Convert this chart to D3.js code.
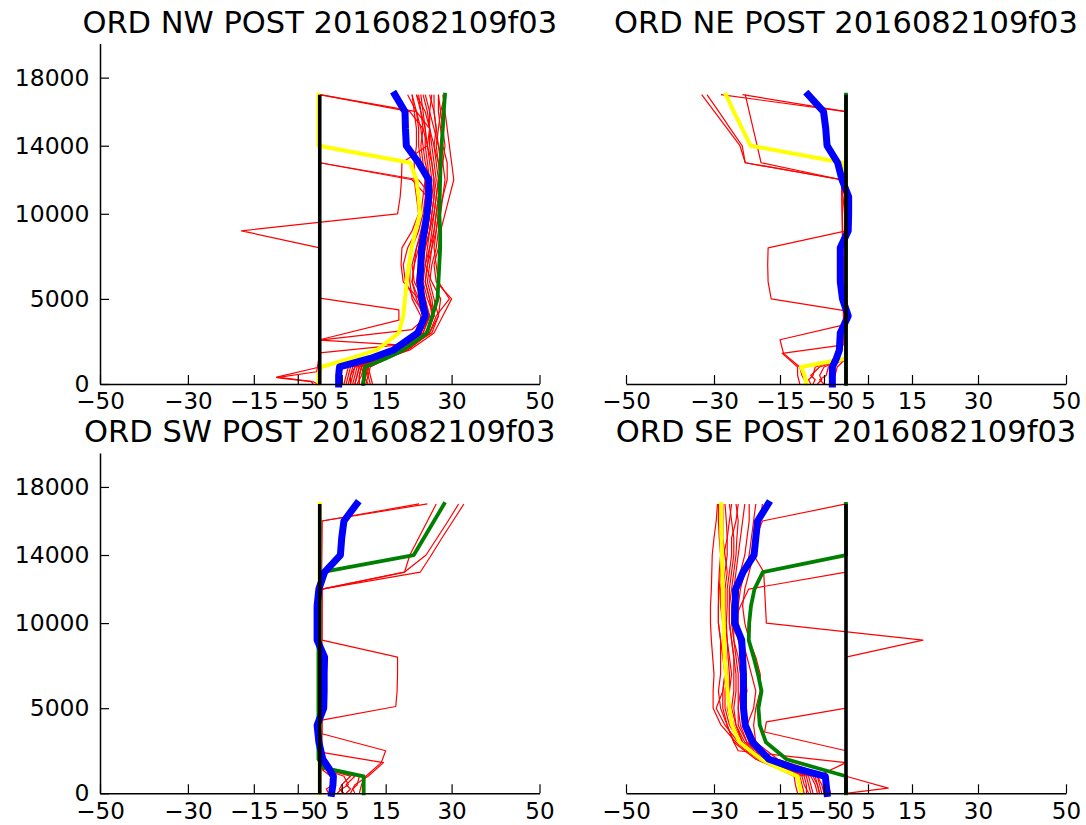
<!DOCTYPE html>
<html><head><meta charset="utf-8">
<script src="https://cdn.jsdelivr.net/npm/d3@7"></script>
<style>body{margin:0;background:#fff}svg{display:block}text{font-family:"DejaVu Sans",sans-serif;fill:#000}</style>
</head><body><svg id="c" width="1086" height="825"></svg>
<script>
// ---------- data ----------
const titles = ["ORD NW POST 2016082109f03","ORD NE POST 2016082109f03","ORD SW POST 2016082109f03","ORD SE POST 2016082109f03"];
const xTicks = [-50,-30,-15,-5,0,5,15,30,50];
const xTickLabels = ["\u221250","\u221230","\u221215","\u22125","0","5","15","30","50"];
const yTicks = [0,5000,10000,14000,18000];
const levels = [0,500,1000,1500,2000,3000,4000,5000,6000,7000,8000,9000,10000,11000,12000,13000,14000,15000,16000,17000];
const zeroLine = [0,0,0,0,0,0,0,0,0,0,0,0,0,0,0,0,0,0,0,0];

// NW
const nwRed = [
 [6,6.5,7,12,17,22,23.5,22,21,21.5,22,23,24,24.5,25,24,23.5,23,22,20],
 [8,8.5,9,13,18,23,24.5,24,23,23.5,24,25,25.5,26,26.5,26,25.5,25,24,22],
 [10,10.5,11,14.5,19.5,24.5,25.5,25,24,24.5,25,26,26.5,27,27,26.5,26,26.5,26,25],
 [11.5,11,11.5,15.5,20,25,26.5,29.5,27,26.5,26,26.5,27,28,29,29,28,27.5,27,27],
 [7,7.5,8,12.5,17.5,22.5,24,21.5,19.5,19,20,22,23,23.5,24,23,22.5,22.5,22,21],
 [9,9,9.5,13.5,18.5,23.5,25,23,22,22.5,23.5,24.5,25,25.5,26,25.5,25,25,24.5,23.5],
 [10.5,11,10.5,15,19,25.5,27,26,25,25.5,26.5,27,27.5,28,28.5,28,27,26.5,26,26],
 [6.5,7,7.5,12,16.5,22,24,22.5,19,18.5,18.7,21,22.5,22,21.5,21.5,22,22,21.5,21],
 [8.5,9.5,10,14,19,24,26,24.5,23.5,24,25,25.5,26,26.5,27,27.5,27,26,25,24],
 [12,11.5,11,15,20.5,26,28,30,26.5,26,27,27.5,28.5,29.5,30.5,30,29.5,29,28.5,28],
 [7.5,8,8.5,13,18,23,25,23.5,21.5,21,22,23.5,24.5,25,25.5,25,24.5,24,23,22.5],
 [9.5,10,10,14,19,24.5,26,25.5,24.5,25,25.5,26.5,27,27,27.5,27,26.5,27,27.5,27],
 [11,10,9.5,14.5,20,25,27,27.5,25.5,24,24.5,25,26,26.5,27,28,28.5,28,27.5,28.5],
 [5.5,6,6.5,11.5,17,22.5,23,21,20.5,20.5,21,22.5,23.5,24,24,23.5,23,23.5,23,22]
];
const nwOdd = [
 [[0,8],[500,8.5],[1000,9],[1500,13.5],[2000,18],[3000,23.5],[4000,25],[5000,24],[6000,22.5],[7000,23],[8000,24],[9000,25],[10000,25.5],[11000,26],[12000,26],[13000,25.5],[14000,24.5],[15000,23.5],[16000,20.5],[17000,0]],
 [[0,10],[500,10.5],[1000,10],[1500,14],[2000,19],[3000,24],[4000,26],[5000,25],[6000,24],[7000,24.5],[8000,25.5],[9000,26],[10000,26.5],[11000,27],[12000,27.5],[13000,27],[14000,26],[15000,25],[16000,22],[17000,0]],
 [[0,7],[500,7],[1000,8],[1500,12.5],[2000,17],[3000,22],[4000,23.5],[5000,22.5],[6000,21],[7000,21.5],[8000,22.5],[9000,23.5],[10000,24],[11000,24.5],[12000,21],[13000,0],[17000,0]],
 [[0,9],[500,9],[1000,9.5],[1500,14],[2000,18.5],[3000,23],[4000,24.5],[5000,24],[6000,23],[7000,23],[8000,23.5],[9000,24.5],[10000,25],[11000,25.5],[12000,22.5],[13000,0],[17000,0]],
 [[0,-1.5],[150,-2],[400,-9.8],[1000,0],[2600,0],[3750,18],[4350,18],[5050,0],[8000,0],[9000,-17.8],[10000,17.7],[11000,18.3],[12000,18.6],[13000,18.7],[14000,24.5],[15000,25],[16000,25],[17000,25.5]],
 [[0,-0.5],[130,-1.5],[380,-9.8],[720,-0.7],[1830,0],[2300,18],[2580,0],[3200,21],[4000,24.5],[5000,23.5],[6000,22.5],[7000,22.5],[8000,23],[9000,24],[10000,24.5],[11000,25],[12000,25],[13000,24.5],[14000,24],[15000,24],[16000,23.5],[17000,23]]
];
const nwYellow = [-0.3,-0.3,0.3,7,13,18,19,19.4,19.8,20.3,20.9,21.8,22.8,22.5,22,20.6,-0.3,-0.3,-0.3,-0.3];
const nwGreen  = [9.9,10.1,10.3,15,19,24.4,25.6,26.8,27,27.2,27.4,27.4,27.2,27.3,27.4,27.5,27.7,28,28.2,28.5];
const nwBlue   = [4.3,4.3,4.5,11.5,16.8,22.3,24,23.2,22.8,23,23.2,23.8,24.4,24.8,24.8,22.5,19.7,19.5,19.4,17.1];

// NE
const neRed = [];
const neOdd = [
 [[0,-9],[500,-10],[1000,-10.5],[1800,-14.2],[2600,-15],[3500,0],[4300,0],[5000,-17],[6000,-17.7],[7000,-17.8],[8000,-17.7],[9000,0],[12000,-1],[13000,-22.9],[14000,-24.1],[15000,-27],[16000,-29.9],[17000,-32.8]],
 [[0,-10.5],[500,-11],[1000,-11],[1800,-14.5],[2300,-0.5],[12000,-1],[13000,-22.9],[14000,-23.6],[15000,-26.3],[16000,-28.9],[17000,-31.6]],
 [[0,0],[12000,-1],[13000,-19.3],[14000,-20.2],[15000,-21.1],[16000,-22],[17000,-22.9]],
 [[0,0],[16000,0],[17000,-28.4]],
 [[0,0],[16000,0],[17000,-23.5]],
 [[0,-8],[250,-8.5],[500,-7.5],[1000,-7],[1500,0],[17000,0]],
 [[0,-6.5],[250,-5.5],[500,-6],[1000,-5],[1500,0],[17000,0]],
 [[0,-5],[250,-6],[500,-4.5],[1000,-4],[1500,0],[17000,0]],
 [[0,-3],[250,-3.5],[500,-2.5],[1000,-2],[1500,0],[17000,0]],
 [[0,-7.5],[250,-7],[500,-8],[1000,-6],[1500,0],[17000,0]]
];
const neYellow = [-9,-9.4,-10.2,0,0,0,0,0,0,0,0,0,0,0,0,-0.7,-21.7,-23.6,-25.5,-27.3];
const neGreen  = [0,0,0,0,0,0,0,0,0,0,0,0,0,0,0,0,0,0,0,0];
const neBlue   = [-3.1,-3.1,-3.1,-2.2,-1.5,-1.3,0.5,-0.8,-1.3,-1.3,-1.3,0.5,0.6,0.6,-0.9,-1.9,-4.3,-4.6,-5.1,-8.6];

// SW
const swRed = [];
const swOdd = [
 [[0,9],[500,9.5],[1000,10.5],[1800,14],[2500,15],[3500,0.5],[4300,0.5],[5100,17.3],[6000,17.6],[7000,17.7],[8000,17.7],[9000,0.5],[12000,0.5],[13000,22.9],[14000,25.4],[15000,27.8],[16000,30.3],[17000,32.8]],
 [[0,7],[500,8],[1000,11],[1800,14.5],[2400,0.5],[12000,0.5],[13000,19.3],[14000,24.2],[15000,26.7],[16000,29.2],[17000,31.6]],
 [[0,0],[16000,0.5],[17000,22.6]],
 [[0,0],[16000,0.5],[17000,24.5]],
 [[0,0],[12000,0.5],[13000,19.3],[14000,20.5],[15000,22.5],[16000,24.5],[17000,26.5]],
 [[0,4],[250,5],[500,6.5],[1000,5.5],[1500,0],[17000,0]],
 [[0,6],[250,7],[500,6],[1000,8],[1500,0],[17000,0]],
 [[0,8],[250,7.5],[500,8.5],[1000,9],[1500,0],[17000,0]],
 [[0,2],[250,1.5],[500,3],[1000,2.5],[1500,0],[17000,0]],
 [[0,5.5],[250,4.5],[500,5],[1000,7],[1500,0],[17000,0]]
];
const swYellow = [0,0,0,0,0,0,0,0,0,0,0,0,0,0,0,0,0,0,0,0];
const swGreen  = [10,10,10,1,-0.3,-0.3,-0.3,-0.3,-0.3,-0.3,-0.3,-0.3,-0.3,-0.3,-0.3,0.5,21.4,23.7,26,28.3];
const swBlue   = [2.7,3,3.1,2,0.7,-0.2,-0.6,0.9,1,1,1.1,-0.6,-0.6,-0.6,-0.2,1.1,4.7,5,5.5,8.4];

// SE
const seRed = [
 [-9.5,-10,-10.5,-15,-20,-25,-28.4,-30.2,-30.2,-30,-30.3,-30.6,-30.8,-30.8,-30.6,-30.5,-30.4,-30,-29.5,-29.2],
 [-8,-8.5,-9,-13.5,-19,-24,-26.5,-27.5,-27.5,-27,-27.3,-27.5,-27.8,-28,-28,-27.5,-27,-27,-27.2,-27.5],
 [-6.5,-7,-8,-12.5,-18,-23,-25,-25.5,-25,-25,-25.5,-26,-26.5,-26.5,-26.5,-26,-25.5,-25.5,-26,-26.5],
 [-11,-11.5,-11.8,-16,-20.5,-25.5,-27,-28.5,-29,-28.5,-28.5,-28.5,-29,-29,-29,-28.8,-28.5,-28.8,-29,-29],
 [-5,-5.5,-6.5,-11.5,-17,-22,-23.5,-23.5,-22.5,-23,-23.5,-24.5,-25,-25,-24.5,-24,-23,-22.5,-22,-22],
 [-7.5,-8,-8.5,-13,-18.5,-23.5,-25.5,-26.5,-26.5,-26,-26.5,-27,-27.2,-27,-27,-26.5,-26,-26,-25,-24.5],
 [-10,-10.5,-11,-15.5,-19.5,-24.5,-26,-27,-26.5,-26.5,-26.8,-27,-27.5,-27.5,-27.5,-27,-27.5,-28,-28,-28],
 [-4,-4.5,-5.5,-10.5,-16.5,-21.5,-22.5,-21,-20.5,-21.5,-22.5,-23.5,-24.5,-24.5,-24,-23,-22,-21.5,-21,-20.5],
 [-9,-9,-9.5,-14,-19.5,-24.5,-27.5,-29.5,-28,-27.5,-27.5,-28,-28,-28.5,-28.5,-28,-27.8,-27,-26.5,-26],
 [-6,-6.5,-7.5,-12,-17.5,-22.5,-24.5,-24.5,-24,-24,-24.5,-25.5,-26,-26,-25.5,-25,-24.5,-24,-23.5,-23],
 [-8.5,-9.5,-10,-14.5,-19,-23.5,-25,-26,-25.5,-25.5,-25.5,-26,-26.5,-26.5,-26,-25.5,-25,-24.8,-24.5,-25],
 [-3.5,-4,-4.5,-9.5,-15.5,-20.5,-21,-20.5,-19.5,-19.5,-20.5,-22,-23,-23.5,-23,-22,-21,-20,-19.5,-19]
];
const seOdd = [
 [[0,0],[300,9.6],[1000,0],[2500,0],[3600,-18.5],[4200,-18.1],[5000,0],[8000,0],[9000,17.5],[10000,-18.1],[11000,-18.3],[12000,-18.5],[13000,-18.7],[14000,-21],[15000,-20.5],[16000,-19],[17000,0]],
 [[0,-6],[500,-6.5],[1000,-7],[1500,-12],[2000,-18],[3000,-22.5],[4000,-24],[5000,-24.5],[6000,-24.5],[7000,-24.5],[8000,-25],[9000,-25.5],[10000,-25.5],[11000,-24],[12000,-22.1],[13000,0],[17000,0]],
 [[0,-5.5],[500,-6],[1000,-6.5],[1800,0],[2500,-24.5],[3000,-25.5],[4000,-27],[5000,-28],[6000,-28],[7000,-27.5],[8000,-28],[9000,-28.5],[10000,-29],[11000,-29],[12000,-28.8],[13000,-28.5],[14000,-28.5],[15000,-28.5],[16000,-28.7],[17000,-28.8]]
];
const seYellow = [-10.2,-10.6,-11,-15.5,-19.3,-24.2,-25.9,-26.5,-26.9,-27.3,-27.6,-27.7,-27.8,-28,-28,-28.1,-28.2,-28.3,-28.4,-28.4];
const seGreen  = [0,0,0,-6.8,-13.5,-18.2,-19.6,-19.9,-19.2,-20,-21,-22.1,-22,-21.6,-20.8,-18.9,0,0,0,0];
const seBlue   = [-4.3,-4.5,-4.7,-12,-17.5,-21.2,-22.9,-23.3,-23.3,-23.3,-23.5,-23.7,-25.3,-25.2,-25.1,-23.4,-20.9,-20.5,-20.1,-17.7];

// ---------- drawing ----------
const svg = d3.select("#c");
const colX = [[100,539.5],[626,1066]];
const rowY = [[384,43.6],[793.3,452.9]];
const panels = [
 {t:titles[0],c:0,r:0,red:nwRed,odd:nwOdd,yel:nwYellow,grn:nwGreen,blu:nwBlue},
 {t:titles[1],c:1,r:0,red:neRed,odd:neOdd,yel:neYellow,grn:neGreen,blu:neBlue},
 {t:titles[2],c:0,r:1,red:swRed,odd:swOdd,yel:swYellow,grn:swGreen,blu:swBlue},
 {t:titles[3],c:1,r:1,red:seRed,odd:seOdd,yel:seYellow,grn:seGreen,blu:seBlue}
];
const toPairs = arr => levels.map((h,i)=>[h,arr[i]]);

panels.forEach(p=>{
  const x = d3.scaleLinear().domain([-50,50]).range(colX[p.c]);
  const y = d3.scaleLinear().domain([0,20000]).range(rowY[p.r]);
  const line = d3.line().x(d=>x(d[1])).y(d=>y(d[0]));
  const g = svg.append("g");
  const draw = (pts,color,w,cap)=> g.append("path").attr("d",line(pts)).attr("fill","none")
      .attr("stroke",color).attr("stroke-width",w).attr("stroke-linejoin","round").attr("stroke-linecap",cap||"square");
  p.red.forEach(m=>draw(toPairs(m),"#ff0000",1.2,"butt"));
  p.odd.forEach(m=>draw(m,"#ff0000",1.2,"butt"));
  draw(toPairs(p.yel),"#ffff00",4);
  draw(toPairs(p.grn),"#008000",3.8);
  draw(toPairs(p.blu),"#0000ff",7);
  draw(toPairs(zeroLine),"#000000",3.6,"butt");

  const ax = g.append("g").attr("transform",`translate(0,${rowY[p.r][0]})`)
    .call(d3.axisBottom(x).tickValues(xTicks).tickFormat((d,i)=>xTickLabels[i]).tickSizeInner(-9).tickSizeOuter(0).tickPadding(9));
  ax.select(".domain").attr("stroke","#000").attr("stroke-width",1.5);
  ax.selectAll(".tick line").attr("stroke","#000").attr("stroke-width",1.2);
  ax.selectAll(".tick text").attr("font-size",23).attr("font-family","DejaVu Sans");
  if(p.c===0){
    const ay = g.append("g").attr("transform",`translate(${colX[p.c][0]},0)`)
      .call(d3.axisLeft(y).tickValues(yTicks).tickFormat(d3.format("d")).tickSizeInner(-9).tickSizeOuter(0).tickPadding(10.5));
    ay.select(".domain").attr("stroke","#000").attr("stroke-width",1.5);
    ay.selectAll(".tick line").attr("stroke","#000").attr("stroke-width",1.2);
    ay.selectAll(".tick text").attr("font-size",23.5).attr("font-family","DejaVu Sans");
  }
  g.append("text").attr("x",(colX[p.c][0]+colX[p.c][1])/2).attr("y",rowY[p.r][1]-10.5)
    .attr("text-anchor","middle").attr("font-size",30.5).text(p.t);
});
</script></body></html>
